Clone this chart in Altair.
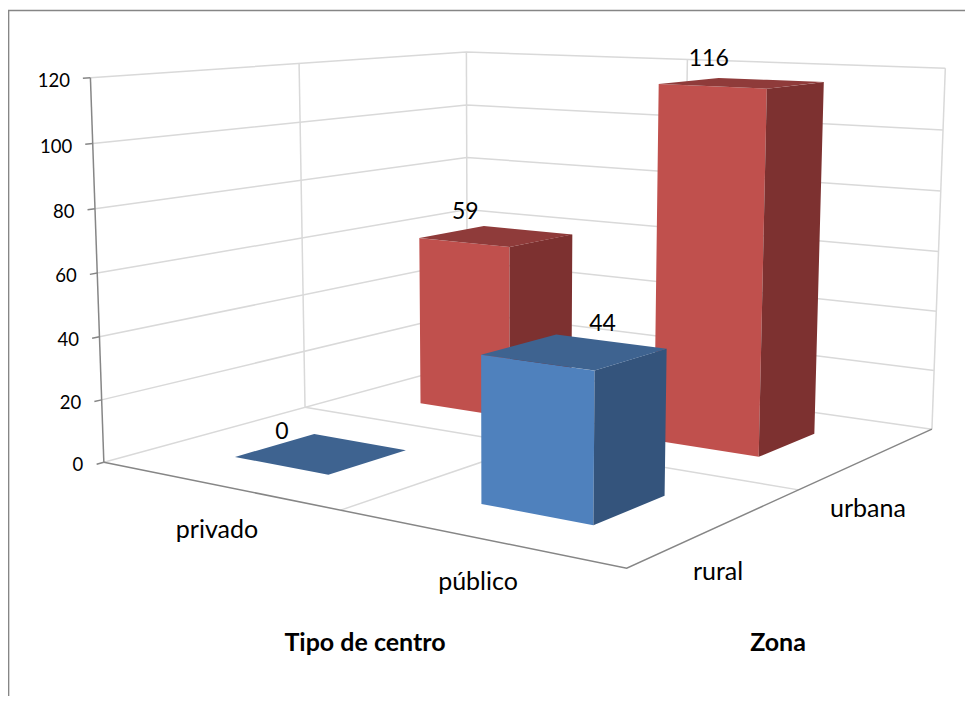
import numpy as np
import pandas as pd
import altair as alt

# ---- chart values ----
tipos = ["privado", "público"]
zonas = ["rural", "urbana"]
rural_vals = [0, 44]
urbana_vals = [59, 116]
y_ticks = [0, 20, 40, 60, 80, 100, 120]
y_max = 120
axis_title_tipo = "Tipo de centro"
axis_title_zona = "Zona"

# ---- layout / style ----
W, H = 957, 688
OFF = 8
bar_half = 0.1
FRONT = {"rural": "#4F81BD", "urbana": "#C0504D"}
SIDE = {"rural": "#34547C", "urbana": "#7D3130"}
TOP = {"rural": "#3E6390", "urbana": "#8F3B3A"}
GRID = "#D9D9D9"
AXIS = "#868686"
FONT = "Lato"

# Perspective camera fitted to the box corners (u, v, h) -> page pixel
anchors = [((0, 0, 0), (104, 462)), ((1, 0, 0), (627, 568)), ((1, 1, 0), (932, 429.5)),
           ((0, 1, 0), (467, 363)), ((0, 0, 1), (90, 78)), ((0, 1, 1), (467, 52)), ((1, 1, 1), (945, 68))]
M = []
for (a, b, c), (px, py) in anchors:
    M.append([a, b, c, 1, 0, 0, 0, 0, -px * a, -px * b, -px * c, -px])
    M.append([0, 0, 0, 0, a, b, c, 1, -py * a, -py * b, -py * c, -py])
P = np.linalg.svd(np.array(M, float))[2][-1].reshape(3, 4)


def proj(u, v, h):
    r = P @ np.array([u, v, h, 1.0])
    return float(r[0] / r[2]) - OFF, float(r[1] / r[2]) - OFF


# ---- lines ----
def lines_frame(polys):
    rows = []
    for k, poly in enumerate(polys):
        for i, q in enumerate(poly):
            x, y = proj(*q)
            rows.append({"x": x, "y": y, "line": k, "i": i})
    return pd.DataFrame(rows)


grid_polys = [
    [(0, 0, 0), (0, 1, 0), (1, 1, 0)],
    [(0, .5, 0), (1, .5, 0)],
    [(.5, 0, 0), (.5, 1, 0)],
    [(0, .5, 0), (0, .5, 1)],
    [(0, 1, 0), (0, 1, 1)],
    [(.5, 1, 0), (.5, 1, 1)],
    [(1, 1, 0), (1, 1, 1)],
]
for t in y_ticks[1:]:
    grid_polys.append([(0, 0, t / y_max), (0, 1, t / y_max), (1, 1, t / y_max)])

axis_polys = [
    [(0, 0, 0), (1, 0, 0), (1, 1, 0)],
    [(0, 0, 0), (0, 0, 1)],
]
for t in y_ticks:
    axis_polys.append([(0, -0.016, t / y_max), (0, 0, t / y_max)])

xs = alt.Scale(domain=[0, W], range=[0, W], nice=False, zero=False)
ys = alt.Scale(domain=[0, H], range=[0, H], nice=False, zero=False)
X = alt.X("x:Q", scale=xs, axis=None)
Y = alt.Y("y:Q", scale=ys, axis=None)


def line_layer(frame, color, width):
    return alt.Chart(frame).mark_line(color=color, strokeWidth=width, interpolate="linear").encode(
        x=X, y=Y, detail="line:N", order="i:Q")


# ---- chart border ----
border = pd.DataFrame([
    {"x": 0.6, "y": H, "line": 0, "i": 0},
    {"x": 0.6, "y": 2.6, "line": 0, "i": 1},
    {"x": W, "y": 2.6, "line": 0, "i": 2},
])


# ---- bars: every visible face is projected from (category, zone, value) ----
def chains(pts):
    """Upper and lower outline of a convex polygon, for an area mark."""
    n = len(pts)
    out = []
    for xv in sorted({p[0] for p in pts}):
        hits = []
        for i in range(n):
            (x0, y0), (x1, y1) = pts[i], pts[(i + 1) % n]
            if min(x0, x1) <= xv <= max(x0, x1):
                if x0 == x1:
                    hits += [y0, y1]
                else:
                    hits.append(y0 + (y1 - y0) * (xv - x0) / (x1 - x0))
        out.append((xv, min(hits), max(hits)))
    return out


faces = []
series = {"rural": rural_vals, "urbana": urbana_vals}
for zone in ["urbana", "rural"]:  # back row first
    v_c = (zonas.index(zone) + 0.5) / len(zonas)
    for j, tipo in enumerate(tipos):
        u_c = (j + 0.5) / len(tipos)
        val = series[zone][j]
        h = val / y_max
        u0, u1, v0, v1 = u_c - bar_half, u_c + bar_half, v_c - bar_half, v_c + bar_half
        quads = [(TOP[zone], [(u0, v0, h), (u1, v0, h), (u1, v1, h), (u0, v1, h)])]
        if val > 0:
            quads = [(FRONT[zone], [(u0, v0, 0), (u1, v0, 0), (u1, v0, h), (u0, v0, h)]),
                     (SIDE[zone], [(u1, v0, 0), (u1, v1, 0), (u1, v1, h), (u1, v0, h)])] + quads
        for fill, quad in quads:
            fid = f"{len(faces):04d}"
            for x, lo, hi in chains([proj(*q) for q in quad]):
                faces.append({"x": x, "y": lo, "y2": hi, "face": fid, "fill": fill})
faces = pd.DataFrame(faces)

bars = alt.Chart(faces).mark_area(orient="vertical", interpolate="linear").encode(
    x=X, y=Y, y2=alt.Y2("y2:Q"),
    color=alt.Color("fill:N", scale=None),
    detail="face:N",
)


# ---- text ----
def text_layer(rows, size, bold=False, align="center"):
    return alt.Chart(pd.DataFrame(rows)).mark_text(
        font=FONT, fontSize=size, fontWeight="bold" if bold else "normal",
        align=align, baseline="middle", color="#000000",
    ).encode(x=X, y=Y, text="t:N")


tick_rows = []
for t in y_ticks:
    x, y = proj(0, 0, t / y_max)
    tick_rows.append({"x": x - 20.5, "y": y + 3, "t": str(t)})

# label anchor offset from the projected bar-top centre
label_offset = {("rural", 0): (-39, -22), ("rural", 1): (28, -28),
                ("urbana", 0): (-31, -24), ("urbana", 1): (-33, -24)}
value_rows = []
for zone in zonas:
    v_c = (zonas.index(zone) + 0.5) / len(zonas)
    for j, tipo in enumerate(tipos):
        val = series[zone][j]
        x, y = proj((j + 0.5) / len(tipos), v_c, val / y_max)
        dx, dy = label_offset[(zone, j)]
        value_rows.append({"x": x + dx, "y": y + dy, "t": str(val)})

cat_rows = [
    {"x": 217 - OFF, "y": 530 - OFF, "t": tipos[0]},
    {"x": 478 - OFF, "y": 582 - OFF, "t": tipos[1]},
    {"x": 718 - OFF, "y": 572 - OFF, "t": zonas[0]},
    {"x": 868 - OFF, "y": 509 - OFF, "t": zonas[1]},
]
title_rows = [
    {"x": 365 - OFF, "y": 643 - OFF, "t": axis_title_tipo},
    {"x": 778 - OFF, "y": 643 - OFF, "t": axis_title_zona},
]

chart = alt.layer(
    line_layer(border, AXIS, 1.5),
    line_layer(lines_frame(grid_polys), GRID, 1.5),
    line_layer(lines_frame(axis_polys), AXIS, 1.5),
    bars,
    text_layer(tick_rows, 18.5, align="right"),
    text_layer(value_rows, 23),
    text_layer(cat_rows, 25),
    text_layer(title_rows, 25, bold=True),
).properties(
    width=W, height=H, padding=0, autosize=alt.AutoSizeParams(type="none"), background="#FFFFFF",
).configure_view(stroke=None)

chart.save("out.html", embed_options={"renderer": "svg", "actions": False})
